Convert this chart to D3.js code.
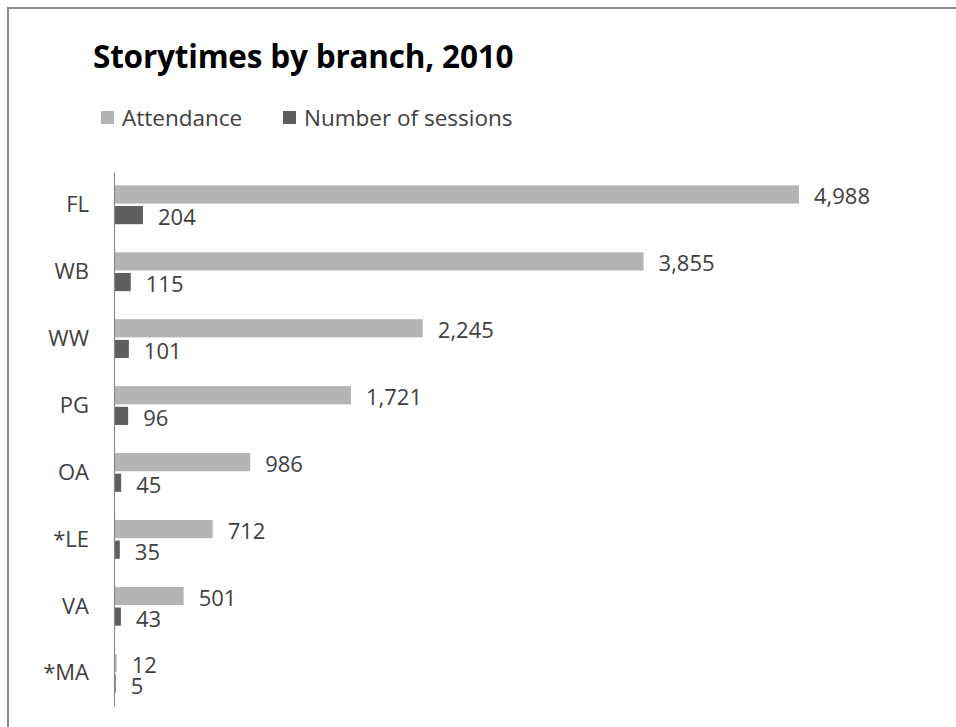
<!DOCTYPE html>
<html>
<head>
<meta charset="utf-8">
<script src="https://cdn.jsdelivr.net/npm/d3@7"></script>
<style>
  html, body { margin: 0; padding: 0; background: #fff; }
  svg { display: block; }
</style>
</head>
<body>
<svg id="chart" width="956" height="727"></svg>
<script>
// Storytime statistics per library branch, 2010
const branches = ["FL", "WB", "WW", "PG", "OA", "*LE", "VA", "*MA"];
const attendance = [4988, 3855, 2245, 1721, 986, 712, 501, 12];
const sessions = [204, 115, 101, 96, 45, 35, 43, 5];
const seriesNames = ["Attendance", "Number of sessions"];
const seriesColors = ["#b4b4b4", "#5f5f5f"];
const titleText = "Storytimes by branch, 2010";

const rows = branches.map((b, i) => ({ branch: b, values: [attendance[i], sessions[i]] }));

const svg = d3.select("#chart");
const labelFont = "'Open Sans', 'Noto Sans', sans-serif";

// outer frame
svg.append("rect")
  .attr("x", 8).attr("y", 8)
  .attr("width", 1000).attr("height", 1000)
  .attr("fill", "#fff")
  .attr("stroke", "#8a8a8a")
  .attr("stroke-width", 2);

// title
svg.append("text")
  .attr("x", 93).attr("y", 68)
  .attr("font-family", "'Open Sans', sans-serif")
  .attr("font-weight", "bold")
  .attr("font-size", 31.5)
  .attr("letter-spacing", -0.2)
  .attr("fill", "#000")
  .text(titleText);

// legend
const legendX = [101, 283];
const legend = svg.append("g");
seriesNames.forEach((name, i) => {
  legend.append("rect")
    .attr("x", legendX[i]).attr("y", 111)
    .attr("width", 13).attr("height", 13)
    .attr("fill", seriesColors[i]);
  legend.append("text")
    .attr("x", legendX[i] + 21).attr("y", 126)
    .attr("font-family", labelFont)
    .attr("font-size", 22.5)
    .attr("fill", "#404040")
    .text(name);
});

// scales
const x = d3.scaleLinear().domain([0, 5000]).range([115, 800.6]);
const y = d3.scaleBand().domain(branches).range([172, 706])
  .paddingInner(0.42).paddingOuter(0.2);
const ySub = d3.scaleBand().domain(d3.range(seriesNames.length))
  .range([0, y.bandwidth()]).paddingInner(0.12);

const fmt = d3.format(",");

const groups = svg.append("g").selectAll("g")
  .data(rows)
  .join("g")
  .attr("transform", d => `translate(0,${y(d.branch)})`);

groups.selectAll("rect")
  .data(d => d.values.map((v, k) => ({ v, k })))
  .join("rect")
  .attr("x", x(0))
  .attr("y", d => ySub(d.k))
  .attr("width", d => x(d.v) - x(0))
  .attr("height", ySub.bandwidth())
  .attr("fill", d => seriesColors[d.k]);

groups.selectAll("text")
  .data(d => d.values.map((v, k) => ({ v, k })))
  .join("text")
  .attr("x", d => x(d.v) + 15)
  .attr("y", d => ySub(d.k) + ySub.bandwidth() / 2 + 10)
  .attr("font-family", labelFont)
  .attr("font-size", 22)
  .attr("fill", "#404040")
  .text(d => fmt(d.v));

// category axis
const yAxis = d3.axisLeft(y).tickSize(0).tickPadding(25);
const axisG = svg.append("g")
  .attr("transform", `translate(${x(0) - 1},0)`)
  .call(yAxis);
axisG.select(".domain").attr("stroke", "#8a8a8a").attr("stroke-width", 1.2);
axisG.selectAll("text")
  .attr("font-family", labelFont)
  .attr("font-size", 22)
  .attr("fill", "#404040")
  .attr("dy", "0.33em");
</script>
</body>
</html>
